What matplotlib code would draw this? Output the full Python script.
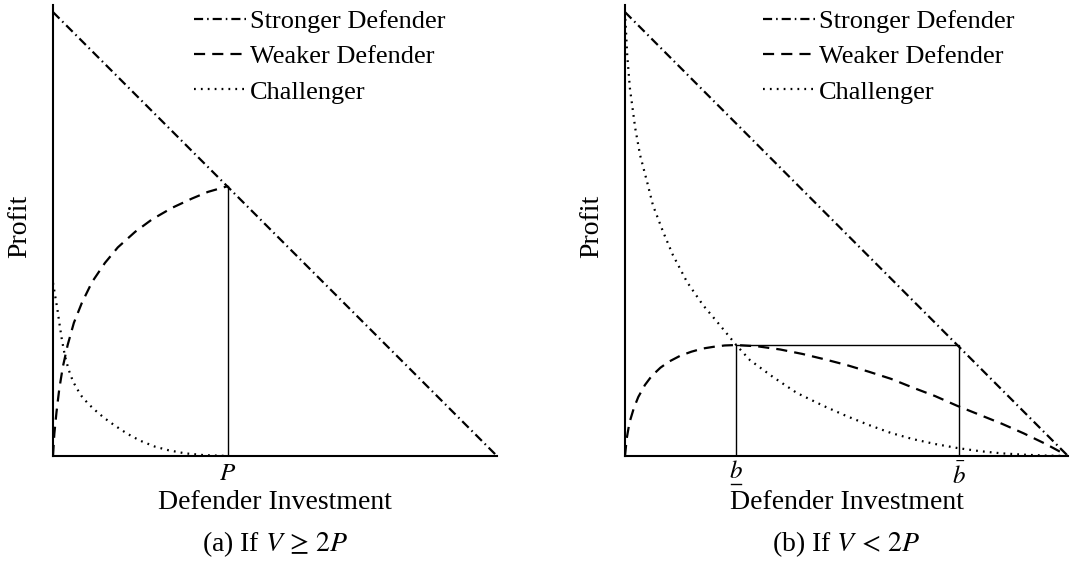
import matplotlib.pyplot as plt
from matplotlib.lines import Line2D

plt.rcParams['font.family'] = ['Liberation Serif', 'DejaVu Serif']
plt.rcParams['mathtext.fontset'] = 'stix'

# ---- panel (a): V >= 2P  (x and y scaled so V = 1) ----
p_a = 0.394
stronger_a_x = [0.0, 1.0]
stronger_a_y = [1.0, 0.0]
weaker_a_x = [0.0, 0.003, 0.008, 0.014, 0.022, 0.033, 0.047, 0.065, 0.088,
              0.117, 0.146, 0.185, 0.223, 0.268, 0.313, 0.349, 0.394]
weaker_a_y = [0.0, 0.05, 0.10, 0.15, 0.20, 0.25, 0.30, 0.345, 0.392, 0.435,
              0.470, 0.505, 0.533, 0.559, 0.580, 0.595, 0.608]
chall_a_x = [0.0, 0.005, 0.010, 0.015, 0.020, 0.027, 0.035, 0.045, 0.055,
             0.065, 0.080, 0.095, 0.115, 0.133, 0.155, 0.178, 0.200, 0.230,
             0.260, 0.297, 0.340, 0.394]
chall_a_y = [0.390, 0.360, 0.330, 0.295, 0.262, 0.225, 0.195, 0.168, 0.150,
             0.134, 0.117, 0.103, 0.086, 0.073, 0.058, 0.044, 0.033, 0.021,
             0.013, 0.006, 0.002, 0.0]

# ---- panel (b): V < 2P ----
b_low = 0.251
b_high = 0.754
level_b = 0.25
stronger_b_x = [0.0, 1.0]
stronger_b_y = [1.0, 0.0]
weaker_b_x = [0.0, 0.004, 0.010, 0.020, 0.030, 0.045, 0.060, 0.080, 0.100,
              0.125, 0.150, 0.175, 0.200, 0.225, 0.251, 0.30, 0.35, 0.40,
              0.45, 0.50, 0.55, 0.60, 0.65, 0.70, 0.75, 0.80, 0.85, 0.90,
              0.95, 1.0]
weaker_b_y = [0.0, 0.040, 0.075, 0.108, 0.133, 0.160, 0.180, 0.199, 0.213,
              0.226, 0.235, 0.242, 0.246, 0.249, 0.250, 0.247, 0.240, 0.230,
              0.218, 0.205, 0.190, 0.174, 0.154, 0.135, 0.113, 0.093, 0.073,
              0.051, 0.027, 0.0]
chall_b_x = [0.0, 0.005, 0.011, 0.023, 0.034, 0.050, 0.063, 0.086, 0.108,
             0.140, 0.176, 0.214, 0.251, 0.282, 0.334, 0.388, 0.45, 0.50,
             0.55, 0.60, 0.65, 0.70, 0.75, 0.80, 0.85, 0.90, 0.95, 1.0]
chall_b_y = [1.0, 0.903, 0.829, 0.739, 0.678, 0.617, 0.565, 0.505, 0.453,
             0.392, 0.340, 0.295, 0.250, 0.216, 0.178, 0.142, 0.112, 0.090,
             0.070, 0.052, 0.038, 0.027, 0.018, 0.011, 0.006, 0.003, 0.001,
             0.0]

labels = ['Stronger Defender', 'Weaker Defender', 'Challenger']
captions = [r'(a) If $V\,\geq\,2P$', r'(b) If $V\,<\,2P$']

LW = 1.6
FS = 20
FS_LEG = 19
FS_TICK = 18
dashdot = (4.1, 1.8, 0.7, 1.8)
dashed = (5.0, 3.2)
dotted = (0.8, 2.3)

fig = plt.figure(figsize=(10.73, 5.63), dpi=100)
ax1 = fig.add_axes([53 / 1073, 107 / 563, 444 / 1073, 451 / 563])
ax2 = fig.add_axes([625 / 1073, 107 / 563, 443 / 1073, 451 / 563])


def setup(ax, cap):
    ax.set_xlim(0, 1)
    ax.set_ylim(0, 1.016)
    for s in ['top', 'right']:
        ax.spines[s].set_visible(False)
    for s in ['left', 'bottom']:
        ax.spines[s].set_linewidth(1.5)
    ax.set_xticks([])
    ax.set_yticks([])
    ax.text(-0.076, 0.51, 'Profit', rotation=90, transform=ax.transAxes,
            ha='center', va='center', fontsize=FS)
    ax.text(0.5, -0.103, 'Defender Investment', transform=ax.transAxes,
            ha='center', va='center', fontsize=FS)
    ax.text(0.5, -0.195, cap, transform=ax.transAxes,
            ha='center', va='center', fontsize=FS)


def curves(ax, sx, sy, wx, wy, cx, cy):
    h1, = ax.plot(sx, sy, color='k', lw=LW, dashes=dashdot)
    h2, = ax.plot(wx, wy, color='k', lw=LW, dashes=dashed)
    h3, = ax.plot(cx, cy, color='k', lw=LW, dashes=dotted)
    return [h1, h2, h3]


def legend(ax, handles, x0):
    ax.legend(handles, labels, loc='upper left', bbox_to_anchor=(x0, 0.99),
              frameon=False, fontsize=FS_LEG, handlelength=2.0,
              handletextpad=0.1, labelspacing=0.45, borderpad=0,
              borderaxespad=0)


# panel (a)
setup(ax1, captions[0])
hs = curves(ax1, stronger_a_x, stronger_a_y, weaker_a_x, weaker_a_y,
            chall_a_x, chall_a_y)
ax1.plot([p_a, p_a], [0, weaker_a_y[-1]], color='k', lw=1.0)
ax1.text(p_a, -0.04, '$P$', transform=ax1.get_xaxis_transform(),
         ha='center', va='center', fontsize=FS_TICK)
legend(ax1, hs, 0.318)

# panel (b)
setup(ax2, captions[1])
hs = curves(ax2, stronger_b_x, stronger_b_y, weaker_b_x, weaker_b_y,
            chall_b_x, chall_b_y)
ax2.plot([b_low, b_low, b_high, b_high], [0, level_b, level_b, 0],
         color='k', lw=1.0)
tr = ax2.get_xaxis_transform()
ax2.text(b_low, -0.036, '$b$', transform=tr, ha='center', va='center',
         fontsize=FS_TICK)
ax2.add_line(Line2D([b_low - 0.011, b_low + 0.011], [-0.062, -0.062],
                    transform=tr, color='k', lw=1.0, clip_on=False))
ax2.text(b_high, -0.045, r'$\bar{b}$', transform=tr, ha='center',
         va='center', fontsize=FS_TICK)
legend(ax2, hs, 0.312)

fig.savefig('out.png', dpi=100)
